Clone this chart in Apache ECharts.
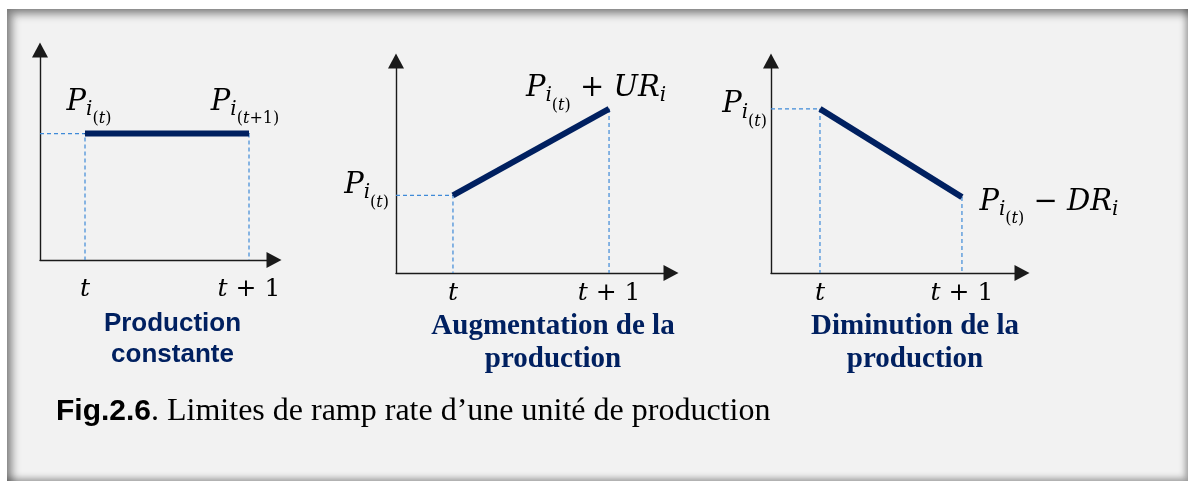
<!DOCTYPE html>
<html><head><meta charset="utf-8">
<script src="https://cdn.jsdelivr.net/npm/echarts@6/dist/echarts.min.js"></script>
<style>
html,body{margin:0;padding:0;background:#fff;}
#frame{position:absolute;left:7px;top:9px;width:1181px;height:472px;background:#f2f2f2;
  box-shadow: inset 5px 5px 9px rgba(0,0,0,0.45), inset -3px -3px 6px rgba(0,0,0,0.3);}
#chart{position:absolute;left:0;top:0;width:1195px;height:485px;}
</style></head><body><div id="frame"></div><div id="chart"></div>
<script>
// ---- data ----
const timeSteps = [0, 1];                // t, t+1
const timeLabels = ['t', 't+1'];
const constantP = [60.2, 60.2];          // production constante
const rampUpP = [36.6, 77.4];            // augmentation
const rampDownP = [77.4, 35.8];          // diminution
const panelTitles = ['Production\nconstante', 'Augmentation de la\nproduction', 'Diminution de la\nproduction'];
const figNumber = 'Fig.2.6';
const figCaption = '. Limites de ramp rate d’une unité de production';

// math labels (rich text)
const labelP = '{P|P}{s1|i}{s2|(}{s2i|t}{s2|)}';
const labelPnext = '{P|P}{s1|i}{s2|(}{s2i|t}{s2|+1)}';
const labelUp = labelP + '{op| + }{P|UR}{s1|i}';
const labelDown = labelP + '{op| − }{P|DR}{s1|i}';

const MF = 'DejaVu Serif';
const NAVY = '#002060';
const GUIDE = '#3f8ad8';
const mathRich = {
  P:   {fontFamily: MF, fontStyle: 'italic', fontSize: 29, lineHeight: 44, color: '#000'},
  op:  {fontFamily: MF, fontSize: 29, lineHeight: 44, color: '#000'},
  s1:  {fontFamily: MF, fontStyle: 'italic', fontSize: 20, lineHeight: 44, padding: [15, 0, 0, 0], color: '#000'},
  s2:  {fontFamily: MF, fontSize: 16, lineHeight: 44, padding: [34, 0, 0, 0], color: '#000'},
  s2i: {fontFamily: MF, fontStyle: 'italic', fontSize: 16, lineHeight: 44, padding: [34, 0, 0, 0], color: '#000'}
};
const tickRich = {
  tt: {fontFamily: MF, fontStyle: 'italic', fontSize: 25, lineHeight: 30, color: '#000'},
  tn: {fontFamily: MF, fontSize: 25, lineHeight: 30, color: '#000'}
};
function timeRich(v) {
  const lab = timeLabels[timeSteps.indexOf(v)] || '';
  return lab === 't' ? '{tt|t}' : '{tt|t}{tn| + 1}';
}

const panels = [
  {grid: {left: 40, top: 50, width: 234, height: 210}, xmin: -0.2744, xmax: 1.1524, values: constantP,
   xMargin: 14, yLabel: false,
   labels: [{text: labelP, position: 'top', distance: 9, offset: [4, 0]},
            {text: labelPnext, position: 'top', distance: 9, offset: [-4, 0]}]},
  {grid: {left: 396, top: 61, width: 275, height: 212}, xmin: -0.365, xmax: 1.397, values: rampUpP,
   xMargin: 5, yLabel: true, yMargin: 7, yPad: 20,
   labels: [null, {text: labelUp, position: 'top', distance: 3, offset: [-13, 5]}]},
  {grid: {left: 771, top: 61, width: 251, height: 212}, xmin: -0.345, xmax: 1.423, values: rampDownP,
   xMargin: 5, yLabel: true, yMargin: 4, yPad: 8,
   labels: [null, {text: labelDown, position: 'right', distance: 17, offset: [0, 5]}]}
];

const axisLine = {onZero: false, symbol: ['none', 'triangle'], symbolSize: [16, 15],
                  lineStyle: {color: '#1a1a1a', width: 1.4}};
const guideStyle = {type: [4, 3], color: GUIDE, width: 1.2};

const grid = [], xAxis = [], yAxis = [], series = [];
panels.forEach((p, i) => {
  grid.push(p.grid);
  xAxis.push({gridIndex: i, type: 'value', min: p.xmin, max: p.xmax, axisLine,
    axisTick: {show: false}, splitLine: {show: false},
    axisLabel: {customValues: timeSteps, margin: p.xMargin, formatter: timeRich, rich: tickRich}});
  yAxis.push({gridIndex: i, type: 'value', min: 0, max: 100, axisLine,
    axisTick: {show: false}, splitLine: {show: false},
    axisLabel: p.yLabel ? {customValues: [p.values[0]], margin: p.yMargin, padding: [0, 0, p.yPad, 0],
      formatter: () => labelP, rich: mathRich} : {show: false}});
  // dashed guides (from the y axis to t, and down to the x axis at t and t+1)
  series.push({
    type: 'line', xAxisIndex: i, yAxisIndex: i, symbol: 'none', silent: true, z: 1, clip: false,
    data: [[p.xmin, p.values[0]], [timeSteps[0], p.values[0]], [timeSteps[0], 0]],
    lineStyle: guideStyle, itemStyle: {color: GUIDE}
  });
  series.push({
    type: 'line', xAxisIndex: i, yAxisIndex: i, symbol: 'none', silent: true, z: 1, clip: false,
    data: [[timeSteps[1], p.values[1]], [timeSteps[1], 0]],
    lineStyle: guideStyle, itemStyle: {color: GUIDE}
  });
  const data = timeSteps.map((t, k) => {
    const item = {value: [t, p.values[k]]};
    const L = p.labels[k];
    item.label = L ? {show: true, formatter: L.text, position: L.position, distance: L.distance,
                      offset: L.offset, rich: mathRich} : {show: false};
    return item;
  });
  series.push({
    type: 'line', xAxisIndex: i, yAxisIndex: i, data, symbol: 'circle', symbolSize: 1, showSymbol: true,
    silent: true, z: 3, itemStyle: {color: NAVY},
    lineStyle: {color: NAVY, width: 6, cap: 'butt'}
  });
});

const captionPos = [{x: 172.5, y: 308, sans: true}, {x: 553, y: 310}, {x: 915, y: 310}];
const graphic = panelTitles.map((t, i) => ({
  type: 'text', x: captionPos[i].x, y: captionPos[i].y, silent: true,
  style: {text: t, fill: NAVY, textAlign: 'center', textVerticalAlign: 'top',
    font: captionPos[i].sans ? 'bold 26px "Liberation Sans"' : 'bold 29px "Liberation Serif"',
    lineHeight: captionPos[i].sans ? 31 : 33}
}));
graphic.push({
  type: 'text', x: 56, y: 412, silent: true,
  style: {text: '{b|' + figNumber + '}{n|' + figCaption + '}', textVerticalAlign: 'middle',
    rich: {b: {fontFamily: 'Liberation Sans', fontWeight: 'bold', fontSize: 30, lineHeight: 38, fill: '#000'},
           n: {fontFamily: 'Liberation Serif', fontSize: 32, lineHeight: 38, fill: '#000'}}}
});

const chart = echarts.init(document.getElementById('chart'));
chart.setOption({animation: false, backgroundColor: 'transparent', grid, xAxis, yAxis, series, graphic});
</script></body></html>
